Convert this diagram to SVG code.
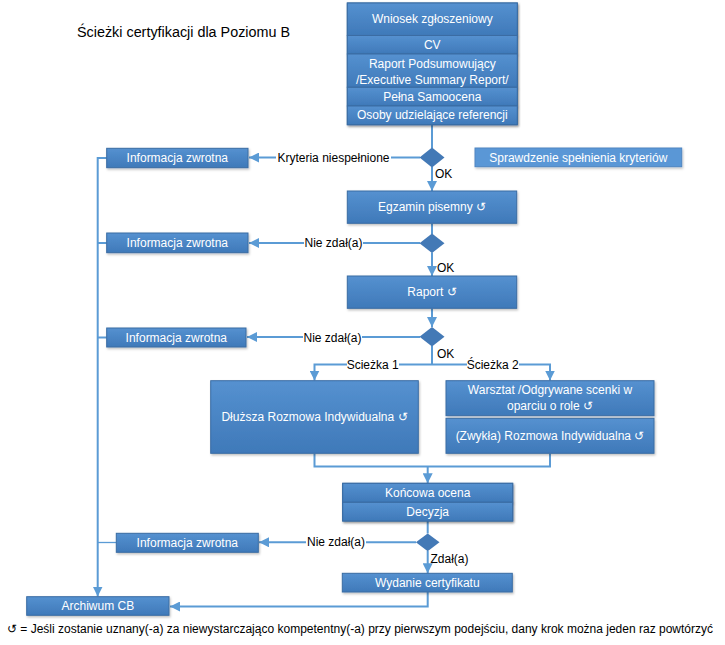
<svg xmlns="http://www.w3.org/2000/svg" width="725" height="645" viewBox="0 0 725 645">
  <defs>
    <linearGradient id="gBox" x1="0" y1="0" x2="0" y2="1">
      <stop offset="0" stop-color="#5591D0"/>
      <stop offset="1" stop-color="#3F79B9"/>
    </linearGradient>
    <filter id="sh" x="-5%" y="-10%" width="115%" height="140%">
      <feDropShadow dx="1" dy="1.5" stdDeviation="1" flood-color="#000" flood-opacity="0.25"/>
    </filter>
    <marker id="ah" viewBox="0 0 10 10" refX="10" refY="5" markerWidth="10" markerHeight="10" markerUnits="userSpaceOnUse" orient="auto">
      <path d="M0,0 L10,5 L0,10 Z" fill="#5B9BD5"/>
    </marker>
    <style>
      .box { fill: url(#gBox); stroke: #3A6CA3; stroke-width: 1; filter: url(#sh); }
      .flat { fill: #5A97D6; stroke: #4F86C2; stroke-width: 1; filter: url(#sh); }
      .dia { fill: #4379B6; stroke: none; }
      .t { font-family: "Liberation Sans", Arial, sans-serif; font-size: 12px; fill: #ffffff; text-anchor: middle; dominant-baseline: central; }
      .l { font-family: "Liberation Sans", Arial, sans-serif; font-size: 12px; fill: #000000; dominant-baseline: central; }
      .lm { text-anchor: middle; }
      .ln { fill: none; stroke: #5B9BD5; stroke-width: 2; }
      .ln1 { fill: none; stroke: #5B9BD5; stroke-width: 1.3; }
      .bg { fill: #ffffff; }
    </style>
  </defs>

  <rect width="725" height="645" fill="#ffffff"/>

  <text id="title" x="77" y="37" font-family="'Liberation Sans', Arial, sans-serif" font-size="14" fill="#000" textLength="213" lengthAdjust="spacingAndGlyphs">Ścieżki certyfikacji dla Poziomu B</text>

  <!-- connectors -->
  <g id="connectors">
    <path class="ln" d="M432,124.5 V148"/>
    <path class="ln" d="M420,157.5 H249" marker-end="url(#ah)"/>
    <path class="ln" d="M432,167 V191" marker-end="url(#ah)"/>
    <path class="ln" d="M432,223.5 V234"/>
    <path class="ln" d="M420,243 H249" marker-end="url(#ah)"/>
    <path class="ln" d="M432,252.5 V276" marker-end="url(#ah)"/>
    <path class="ln" d="M432,308.5 V327" marker-end="url(#ah)"/>
    <path class="ln" d="M420,337 H247" marker-end="url(#ah)"/>
    <path class="ln" d="M432,346 V364.5"/>
    <path class="ln" d="M432,364.5 H314.5 V380.5" marker-end="url(#ah)"/>
    <path class="ln" d="M432,364.5 H550 V380.5" marker-end="url(#ah)"/>
    <path class="ln" d="M314.5,453.5 V466.5 H550 V453.5"/>
    <path class="ln" d="M427.7,466.5 V483.3" marker-end="url(#ah)"/>
    <path class="ln" d="M427.7,521 V533.5"/>
    <path class="ln" d="M416,542.3 H259" marker-end="url(#ah)"/>
    <path class="ln" d="M427.7,551 V573.3" marker-end="url(#ah)"/>
    <path class="ln" d="M427.7,592 V606.5 H170" marker-end="url(#ah)"/>
    <path class="ln" d="M106.7,158 H97.7 V596.5" marker-end="url(#ah)"/>
    <path class="ln" d="M97.7,243 H106.7"/>
    <path class="ln" d="M97.7,337.5 H106.7"/>
    <path class="ln1" d="M97.7,542.5 H116.3"/>

    <g id="labels">
      <rect class="bg" x="276" y="150" width="115" height="15"/>
      <text class="l lm" x="333.5" y="157.5">Kryteria niespełnione</text>
      <text class="l" x="435" y="173.5">OK</text>
      <rect class="bg" x="304" y="236" width="59" height="15"/>
      <text class="l lm" x="333.5" y="243">Nie zdał(a)</text>
      <text class="l" x="437" y="268">OK</text>
      <rect class="bg" x="303" y="330" width="59" height="15"/>
      <text class="l lm" x="332.5" y="337.5">Nie zdał(a)</text>
      <text class="l" x="437" y="354">OK</text>
      <rect class="bg" x="347" y="357" width="52" height="15"/>
      <text class="l lm" x="372.7" y="364.5">Scieżka 1</text>
      <rect class="bg" x="467" y="357" width="52" height="15"/>
      <text class="l lm" x="492.7" y="364.5">Ścieżka 2</text>
      <rect class="bg" x="306" y="535" width="60" height="15"/>
      <text class="l lm" x="336" y="542.3">Nie zdał(a)</text>
      <text class="l" x="430.5" y="559">Zdał(a)</text>
    </g>
  </g>

  <!-- nodes -->
  <g id="application">
    <rect class="box" x="347.3" y="3" width="170" height="121.7"/>
    <rect class="box" x="347.3" y="3" width="170" height="32.5"/>
    <rect class="box" x="347.3" y="35.5" width="170" height="18.5"/>
    <rect class="box" x="347.3" y="54" width="170" height="33.3"/>
    <rect class="box" x="347.3" y="87.3" width="170" height="18.7"/>
    <rect class="box" x="347.3" y="106" width="170" height="18.7"/>
    <text class="t" x="432.3" y="19">Wniosek zgłoszeniowy</text>
    <text class="t" x="432.3" y="45">CV</text>
    <text class="t" x="432.3" y="63.5">Raport Podsumowujący</text>
    <text class="t" x="432.3" y="79.5">/Executive Summary Report/</text>
    <text class="t" x="432.3" y="96.5">Pełna Samoocena</text>
    <text class="t" x="432.3" y="115.3">Osoby udzielające referencji</text>
  </g>

  <g id="criteria-check">
    <rect class="flat" x="475" y="148" width="206.7" height="18.7"/>
    <text class="t" x="578.3" y="157.5">Sprawdzenie spełnienia kryteriów</text>
  </g>

  <g id="decision1"><path class="dia" d="M432,147.6 L444.5,157.5 L432,167.4 L419.5,157.5 Z"/></g>
  <g id="decision2"><path class="dia" d="M432,233.4 L444.5,243.2 L432,253 L419.5,243.2 Z"/></g>
  <g id="decision3"><path class="dia" d="M432,327 L444.5,336.8 L432,346.6 L419.5,336.8 Z"/></g>
  <g id="decision4"><path class="dia" d="M427.7,533.4 L439.5,542.3 L427.7,551.2 L415.9,542.3 Z"/></g>

  <g id="feedback1">
    <rect class="box" x="106.7" y="148.3" width="141.3" height="19.4"/>
    <text class="t" x="177.3" y="158">Informacja zwrotna</text>
  </g>
  <g id="feedback2">
    <rect class="box" x="106.7" y="233" width="141.3" height="19.7"/>
    <text class="t" x="177.3" y="243">Informacja zwrotna</text>
  </g>
  <g id="feedback3">
    <rect class="box" x="106.7" y="328" width="139.3" height="19"/>
    <text class="t" x="176.3" y="337.5">Informacja zwrotna</text>
  </g>
  <g id="feedback4">
    <rect class="box" x="116.3" y="533.3" width="142" height="19"/>
    <text class="t" x="187.3" y="542.8">Informacja zwrotna</text>
  </g>

  <g id="written-exam">
    <rect class="box" x="347.3" y="191" width="169.4" height="32.3"/>
    <text class="t" x="432" y="207.2">Egzamin pisemny ↺</text>
  </g>

  <g id="report">
    <rect class="box" x="347.3" y="276" width="169.4" height="32.3"/>
    <text class="t" x="432" y="292.2">Raport ↺</text>
  </g>

  <g id="long-interview">
    <rect class="box" x="210.7" y="380.7" width="207.6" height="72.6"/>
    <text class="t" x="314.5" y="417.3">Dłuższa Rozmowa Indywidualna  ↺</text>
  </g>

  <g id="workshop">
    <rect class="box" x="446" y="380.7" width="208" height="35"/>
    <text class="t" x="550" y="389.5">Warsztat /Odgrywane scenki w</text>
    <text class="t" x="550" y="406">oparciu o role ↺</text>
  </g>

  <g id="regular-interview">
    <rect class="box" x="446" y="418.3" width="208" height="35"/>
    <text class="t" x="550" y="436">(Zwykła) Rozmowa Indywidualna  ↺</text>
  </g>

  <g id="final-assessment">
    <rect class="box" x="342.7" y="483.3" width="170" height="37.7"/>
    <rect class="box" x="342.7" y="483.3" width="170" height="19"/>
    <rect class="box" x="342.7" y="502.3" width="170" height="18.7"/>
    <text class="t" x="427.7" y="492.8">Końcowa ocena</text>
    <text class="t" x="427.7" y="511.6">Decyzja</text>
  </g>

  <g id="certificate">
    <rect class="box" x="342.3" y="573.3" width="170" height="18.7"/>
    <text class="t" x="427.3" y="582.6">Wydanie certyfikatu</text>
  </g>

  <g id="archive">
    <rect class="box" x="26.7" y="596.7" width="142.3" height="18.6"/>
    <text class="t" x="97.8" y="606">Archiwum CB</text>
  </g>

  <text id="footnote" x="7" y="633" font-family="'Liberation Sans', Arial, sans-serif" font-size="12" fill="#000" textLength="706" lengthAdjust="spacingAndGlyphs">↺ = Jeśli zostanie uznany(-a) za niewystarczająco kompetentny(-a) przy pierwszym podejściu, dany krok można jeden raz powtórzyć</text>
</svg>
